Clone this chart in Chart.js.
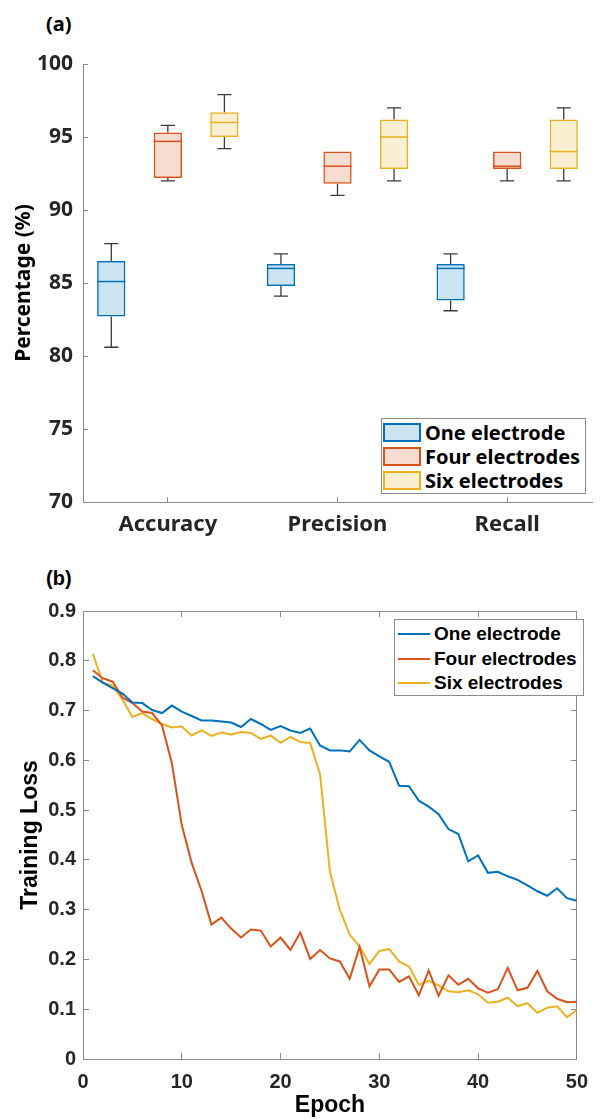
<!DOCTYPE html>
<html>
<head>
<meta charset="utf-8">
<script src="https://cdn.jsdelivr.net/npm/chart.js@4.4.0/dist/chart.umd.min.js"></script>
<style>
    body { margin: 0; background: #fff; width: 605px; height: 1119px; position: relative; overflow: hidden; }
    canvas { position: absolute; left: 0; }
    #boxCanvas { top: 0; }
    #lossCanvas { top: 545px; }
    .panel-tag { position: absolute; font-weight: 700; font-size: 20px; color: #000; line-height: 22px; }
    .legend { position: absolute; background: #fff; border: 1px solid #8c8c8c; box-sizing: border-box; }
    .legend .row { display: flex; align-items: center; white-space: nowrap; }
</style>
</head>
<body>
<div class="panel-tag" style="left:46px; top:13px; font-family:'Noto Sans', sans-serif;">(a)</div>
<div class="panel-tag" style="left:46px; top:567px; font-family:'Liberation Sans', Arial, sans-serif;">(b)</div>
<canvas id="boxCanvas" width="605" height="545"></canvas>
<canvas id="lossCanvas" width="605" height="574"></canvas>
<div class="legend" id="boxLegend" style="left:381px; top:418px; width:205px; height:76px; padding-top:1px;"></div>
<div class="legend" id="lossLegend" style="left:394px; top:619px; width:190px; height:77px; padding-top:2px;"></div>

<script>
// ---- 공통 값 ----
const seriesNames = ['One electrode', 'Four electrodes', 'Six electrodes'];
const seriesColors = ['#0072BD', '#D95319', '#EDB120'];
const seriesFills = ['rgba(0,114,189,0.2)', 'rgba(217,83,25,0.2)', 'rgba(237,177,32,0.2)'];
const axisGray = '#8a8a8a';
const labelColor = '#262626';

// ---- (a) 박스플롯 데이터 ----
const metrics = ['Accuracy', 'Precision', 'Recall'];

const oneMin = [80.6, 84.1, 83.1];
const oneQ1 = [82.7, 84.8, 83.8];
const oneMed = [85.1, 86.0, 86.0];
const oneQ3 = [86.5, 86.3, 86.3];
const oneMax = [87.7, 87.0, 87.0];

const fourMin = [92.0, 91.0, 92.0];
const fourQ1 = [92.2, 91.8, 92.8];
const fourMed = [94.7, 93.0, 93.0];
const fourQ3 = [95.3, 94.0, 94.0];
const fourMax = [95.8, 94.0, 94.0];

const sixMin = [94.2, 92.0, 92.0];
const sixQ1 = [95.0, 92.8, 92.8];
const sixMed = [96.0, 95.0, 94.0];
const sixQ3 = [96.7, 96.2, 96.2];
const sixMax = [97.9, 97.0, 97.0];

const percentTicks = [70, 75, 80, 85, 90, 95, 100];

// ---- (b) 학습 손실 데이터 ----
const epochs = [1, 2, 3, 4, 5, 6, 7, 8, 9, 10, 11, 12, 13, 14, 15, 16, 17, 18, 19, 20,
    21, 22, 23, 24, 25, 26, 27, 28, 29, 30, 31, 32, 33, 34, 35, 36, 37, 38, 39, 40,
    41, 42, 43, 44, 45, 46, 47, 48, 49, 50];

const lossOne = [0.769, 0.756, 0.745, 0.734, 0.716, 0.715, 0.701, 0.695, 0.710, 0.698,
    0.689, 0.680, 0.680, 0.678, 0.676, 0.667, 0.683, 0.673, 0.661, 0.669,
    0.660, 0.655, 0.664, 0.630, 0.620, 0.620, 0.618, 0.641, 0.620, 0.608,
    0.597, 0.549, 0.548, 0.519, 0.507, 0.492, 0.462, 0.452, 0.397, 0.409,
    0.374, 0.376, 0.367, 0.360, 0.349, 0.337, 0.328, 0.343, 0.323, 0.318];

const lossFour = [0.781, 0.765, 0.758, 0.726, 0.715, 0.698, 0.695, 0.670, 0.594, 0.470,
    0.394, 0.338, 0.270, 0.284, 0.262, 0.244, 0.260, 0.258, 0.226, 0.244,
    0.219, 0.254, 0.201, 0.219, 0.202, 0.196, 0.161, 0.225, 0.146, 0.180,
    0.180, 0.155, 0.166, 0.128, 0.178, 0.127, 0.168, 0.149, 0.161, 0.142,
    0.133, 0.140, 0.183, 0.138, 0.143, 0.177, 0.136, 0.121, 0.114, 0.115];

const lossSix = [0.814, 0.756, 0.750, 0.722, 0.687, 0.695, 0.683, 0.673, 0.666, 0.668,
    0.650, 0.660, 0.649, 0.656, 0.652, 0.657, 0.655, 0.643, 0.650, 0.635,
    0.647, 0.637, 0.635, 0.572, 0.376, 0.300, 0.250, 0.226, 0.191, 0.217,
    0.221, 0.196, 0.186, 0.149, 0.157, 0.148, 0.136, 0.134, 0.138, 0.130,
    0.113, 0.115, 0.123, 0.106, 0.112, 0.093, 0.103, 0.106, 0.084, 0.098];

const epochTicks = [0, 10, 20, 30, 40, 50];

const boxStats = [
    { min: oneMin, q1: oneQ1, med: oneMed, q3: oneQ3, max: oneMax },
    { min: fourMin, q1: fourQ1, med: fourMed, q3: fourQ3, max: fourMax },
    { min: sixMin, q1: sixQ1, med: sixMed, q3: sixQ3, max: sixMax }
];
const lossSeries = [lossOne, lossFour, lossSix];

// 수염(whisker)과 중앙값 선을 그리는 플러그인
const boxWhiskers = {
    id: 'boxWhiskers',
    afterDatasetsDraw(chart) {
        const { ctx } = chart;
        const y = chart.scales.y;
        chart.data.datasets.forEach((ds, i) => {
            const meta = chart.getDatasetMeta(i);
            meta.data.forEach((bar, j) => {
                const s = ds.stats;
                const cap = bar.width / 4;
                const yMin = y.getPixelForValue(s.min[j]);
                const yQ1 = y.getPixelForValue(s.q1[j]);
                const yMed = y.getPixelForValue(s.med[j]);
                const yQ3 = y.getPixelForValue(s.q3[j]);
                const yMax = y.getPixelForValue(s.max[j]);
                ctx.save();
                ctx.strokeStyle = '#3a3a3a';
                ctx.lineWidth = 1.3;
                ctx.beginPath();
                if (s.max[j] > s.q3[j]) {
                    ctx.moveTo(bar.x, yQ3); ctx.lineTo(bar.x, yMax);
                    ctx.moveTo(bar.x - cap, yMax); ctx.lineTo(bar.x + cap, yMax);
                }
                if (s.min[j] < s.q1[j]) {
                    ctx.moveTo(bar.x, yQ1); ctx.lineTo(bar.x, yMin);
                    ctx.moveTo(bar.x - cap, yMin); ctx.lineTo(bar.x + cap, yMin);
                }
                ctx.stroke();
                // 중앙값
                ctx.strokeStyle = ds.borderColor;
                ctx.lineWidth = 1.5;
                ctx.beginPath();
                ctx.moveTo(bar.x - bar.width / 2, yMed);
                ctx.lineTo(bar.x + bar.width / 2, yMed);
                ctx.stroke();
                ctx.restore();
            });
        });
    }
};

const fontA = "'Noto Sans', sans-serif";
const fontB = "'Liberation Sans', Arial, sans-serif";

new Chart(document.getElementById('boxCanvas'), {
    type: 'bar',
    data: {
        labels: metrics,
        datasets: boxStats.map((s, i) => ({
            label: seriesNames[i],
            data: s.q1.map((v, j) => [v, s.q3[j]]),
            backgroundColor: seriesFills[i],
            borderColor: seriesColors[i],
            borderWidth: 1.5,
            borderSkipped: false,
            categoryPercentage: 1.0,
            barPercentage: 0.5,
            stats: s
        }))
    },
    options: {
        responsive: false,
        animation: false,
        layout: { padding: { top: 64, right: 13, left: 0, bottom: 0 } },
        plugins: { legend: { display: false }, tooltip: { enabled: false } },
        scales: {
            x: {
                offset: true,
                grid: { drawOnChartArea: false, offset: false, tickLength: -5, color: axisGray },
                border: { color: axisGray, width: 1 },
                ticks: { padding: 15, color: labelColor, font: { family: fontA, size: 22, weight: 'bold' } },
                afterFit: s => { s.height = 43; }
            },
            y: {
                min: 70,
                max: 100,
                afterBuildTicks: s => { s.ticks = percentTicks.map(v => ({ value: v })); },
                grid: { drawOnChartArea: false, tickLength: -5, color: axisGray },
                border: { color: axisGray, width: 1 },
                ticks: { padding: 15, color: labelColor, font: { family: fontA, size: 21, weight: 'bold' } },
                title: {
                    display: true,
                    text: 'Percentage (%)',
                    color: '#000',
                    padding: { top: 11, bottom: 0 },
                    font: { family: fontA, size: 21, weight: 'bold', lineHeight: 1.2 }
                },
                afterFit: s => { s.width = 83; }
            }
        }
    },
    plugins: [boxWhiskers]
});

const fmtLoss = v => String(Number(v.toFixed(1)));

new Chart(document.getElementById('lossCanvas'), {
    type: 'line',
    data: {
        datasets: lossSeries.map((vals, i) => ({
            label: seriesNames[i],
            data: epochs.map((e, k) => ({ x: e, y: vals[k] })),
            borderColor: seriesColors[i],
            borderWidth: 2,
            pointRadius: 0,
            tension: 0,
            fill: false
        }))
    },
    options: {
        responsive: false,
        animation: false,
        layout: { padding: { top: 66, right: 14, left: 0, bottom: 0 } },
        plugins: { legend: { display: false }, tooltip: { enabled: false } },
        scales: {
            x: {
                type: 'linear',
                min: 0,
                max: 50,
                afterBuildTicks: s => { s.ticks = epochTicks.map(v => ({ value: v })); },
                grid: { drawOnChartArea: false, tickLength: -6, color: axisGray },
                border: { color: axisGray, width: 1 },
                ticks: { padding: 17, color: labelColor, maxRotation: 0, font: { family: fontB, size: 20, weight: 'bold' } },
                title: {
                    display: true,
                    text: 'Epoch',
                    color: '#000',
                    padding: { top: 0, bottom: 2 },
                    font: { family: fontB, size: 23, weight: 'bold', lineHeight: 1.0 }
                },
                afterFit: s => { s.height = 60; }
            },
            x2: {
                type: 'linear',
                position: 'top',
                min: 0,
                max: 50,
                afterBuildTicks: s => { s.ticks = epochTicks.map(v => ({ value: v })); },
                grid: { drawOnChartArea: false, tickLength: -6, color: axisGray },
                border: { color: axisGray, width: 1 },
                ticks: { display: false },
                afterFit: s => { s.height = 0; }
            },
            y: {
                min: 0,
                max: 0.9,
                ticks: { stepSize: 0.1, padding: 13, color: labelColor, callback: fmtLoss, font: { family: fontB, size: 20, weight: 'bold' } },
                grid: { drawOnChartArea: false, tickLength: -6, color: axisGray },
                border: { color: axisGray, width: 1 },
                title: {
                    display: true,
                    text: 'Training Loss',
                    color: '#000',
                    padding: { top: 17, bottom: 0 },
                    font: { family: fontB, size: 23, weight: 'bold', lineHeight: 1.2 }
                },
                afterFit: s => { s.width = 83; }
            },
            y2: {
                position: 'right',
                min: 0,
                max: 0.9,
                ticks: { display: false, stepSize: 0.1 },
                grid: { drawOnChartArea: false, tickLength: -6, color: axisGray },
                border: { color: axisGray, width: 1 },
                afterFit: s => { s.width = 0; }
            }
        }
    }
});

// ---- HTML 범례 ----
const boxLegend = document.getElementById('boxLegend');
seriesNames.forEach((name, i) => {
    boxLegend.innerHTML += `<div class="row" style="height:24.3px;">
        <span style="display:inline-block; box-sizing:border-box; width:38px; height:19px; margin-left:1px; margin-right:4px;
            border:2px solid ${seriesColors[i]}; background:${seriesFills[i]};"></span>
        <span style="font-family:${fontA}; font-weight:700; font-size:20px; color:#000;">${name}</span>
    </div>`;
});

const lossLegend = document.getElementById('lossLegend');
seriesNames.forEach((name, i) => {
    lossLegend.innerHTML += `<div class="row" style="height:24.5px;">
        <span style="display:inline-block; width:32px; height:2px; margin-left:3px; margin-right:4px; background:${seriesColors[i]};"></span>
        <span style="font-family:${fontB}; font-weight:700; font-size:19px; color:#000;">${name}</span>
    </div>`;
});
</script>
</body>
</html>
